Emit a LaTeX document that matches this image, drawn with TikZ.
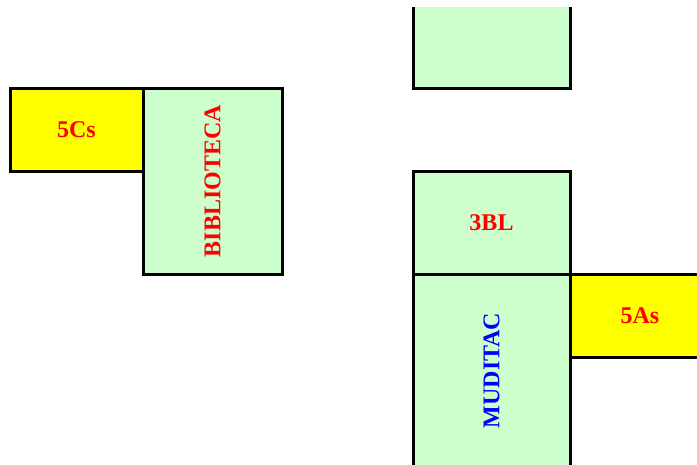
\documentclass[tikz,border=0pt]{standalone}
\usepackage{graphicx}
\usepackage{fontspec}
\setmainfont{Liberation Serif}
\definecolor{lgreen}{HTML}{CCFFCC}
\definecolor{yel}{HTML}{FFFF00}
\definecolor{txtred}{HTML}{FF0000}
\definecolor{txtblue}{HTML}{0000FF}
\begin{document}
\begin{tikzpicture}[x=1pt,y=-1pt,
  room/.style={draw=black,line width=3pt,inner sep=0pt,outer sep=0pt,
    font=\bfseries\fontsize{24}{28}\selectfont,text=txtred},
  gbox/.style={room,fill=lgreen},
  ybox/.style={room,fill=yel}]
\useasboundingbox (0,0) rectangle (697,464);
\clip (0,7) rectangle (697,464);
\node[gbox,minimum width=157pt,minimum height=101pt] (top) at (491.5,37.5) {};
\node[ybox,minimum width=133pt,minimum height=83pt] (c5) at (76.5,129.5) {5Cs};
\node[gbox,minimum width=139pt,minimum height=186pt] (bib) at (212.5,181) {\rotatebox{90}{BIBLIOTECA}};
\node[gbox,minimum width=157pt,minimum height=103pt] (bl3) at (491.5,222.5) {3BL};
\node[gbox,minimum width=157pt,minimum height=193pt,text=txtblue] (mud) at (491.5,370.5) {\rotatebox{90}{MUDITAC}};
\node[ybox,minimum width=140pt,minimum height=83pt] (a5) at (640,315.5) {5As};
\end{tikzpicture}
\end{document}
